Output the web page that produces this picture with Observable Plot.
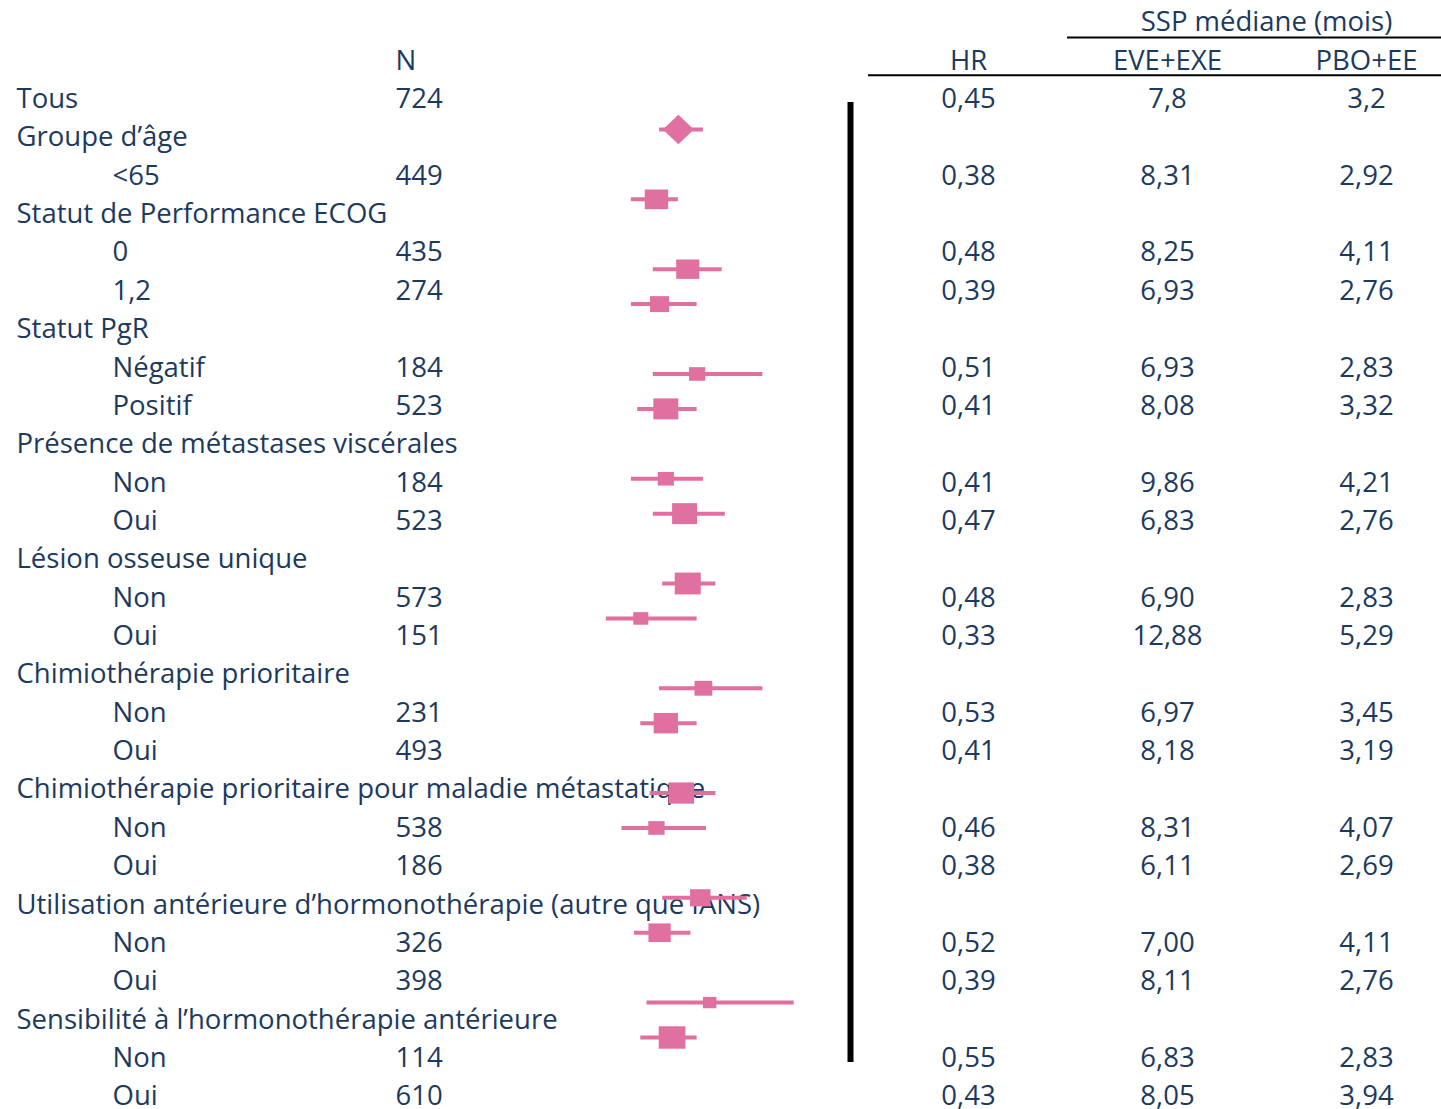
<!DOCTYPE html>
<html lang="fr">
<head>
<meta charset="utf-8">
<title>SSP médiane par sous-groupe</title>
<script src="https://cdn.jsdelivr.net/npm/d3@7"></script>
<script src="https://cdn.jsdelivr.net/npm/@observablehq/plot@0.6"></script>
<style>
  html, body { margin: 0; padding: 0; background: #ffffff; }
  #chart { position: relative; width: 1441px; height: 1109px; }
  #chart svg { position: absolute; left: 0; top: 0; }
</style>
</head>
<body>
<div id="chart"></div>
<script>
// Row labels of the table, top to bottom
const rowLabels = [
  "Tous",
  "Groupe d’âge", "<65",
  "Statut de Performance ECOG", "0", "1,2",
  "Statut PgR", "Négatif", "Positif",
  "Présence de métastases viscérales", "Non", "Oui",
  "Lésion osseuse unique", "Non", "Oui",
  "Chimiothérapie prioritaire", "Non", "Oui",
  "Chimiothérapie prioritaire pour maladie métastatique", "Non", "Oui",
  "Utilisation antérieure d’hormonothérapie (autre que IANS)", "Non", "Oui",
  "Sensibilité à l’hormonothérapie antérieure", "Non", "Oui"
];
// "total" = overall population, "group" = subgroup heading, "sub" = subgroup level
const rowKind = [
  "total",
  "group", "sub",
  "group", "sub", "sub",
  "group", "sub", "sub",
  "group", "sub", "sub",
  "group", "sub", "sub",
  "group", "sub", "sub",
  "group", "sub", "sub",
  "group", "sub", "sub",
  "group", "sub", "sub"
];

// Values for every row that carries an estimate (overall + each subgroup level)
const patients    = [724, 449, 435, 274, 184, 523, 184, 523, 573, 151, 231, 493, 538, 186, 326, 398, 114, 610];
const hazardRatio = [0.45, 0.38, 0.48, 0.39, 0.51, 0.41, 0.41, 0.47, 0.48, 0.33, 0.53, 0.41, 0.46, 0.38, 0.52, 0.39, 0.55, 0.43];
const ciLower     = [0.39, 0.30, 0.37, 0.30, 0.37, 0.32, 0.30, 0.37, 0.40, 0.22, 0.39, 0.33, 0.36, 0.27, 0.40, 0.31, 0.35, 0.33];
const ciUpper     = [0.53, 0.45, 0.59, 0.51, 0.72, 0.51, 0.53, 0.60, 0.57, 0.51, 0.72, 0.51, 0.57, 0.54, 0.67, 0.49, 0.82, 0.51];
const medianEveExe = [7.8, 8.31, 8.25, 6.93, 6.93, 8.08, 9.86, 6.83, 6.90, 12.88, 6.97, 8.18, 8.31, 6.11, 7.00, 8.11, 6.83, 8.05];
const medianPboEe  = [3.2, 2.92, 4.11, 2.76, 2.83, 3.32, 4.21, 2.76, 2.83, 5.29, 3.45, 3.19, 4.07, 2.69, 4.11, 2.76, 2.83, 3.94];

// Header labels
const headerTop = "SSP médiane (mois)";
const headerCols = { n: "N", hr: "HR", eve: "EVE+EXE", pbo: "PBO+EE" };

// ---- assemble table rows ----
const rows = rowLabels.map((label, row) => ({ row, label, kind: rowKind[row] }));
const estimateRows = rows.filter(d => d.kind !== "group");
const estimates = estimateRows.map((d, i) => ({
  row: d.row,
  kind: d.kind,
  n: patients[i],
  hr: hazardRatio[i],
  lo: ciLower[i],
  hi: ciUpper[i],
  eve: medianEveExe[i],
  pbo: medianPboEe[i]
}));

const frNum = (v, digits) => v.toFixed(digits).replace(".", ",");
const medianDigits = d => (d.kind === "total" ? 1 : 2);

// ---- layout & style ----
const W = 1441, H = 1109;
const navy = "#1c3a5e";
const pink = "#df70a0";
const font = "'Open Sans', Lato, sans-serif";
const fontSize = 27.5;
const col = { label: 16, sub: 112, n: 395, hr: 968, eve: 1167, pbo: 1366, ssp: 1266 };

// filled box, slightly wider than tall
const box = {
  draw(ctx, size) {
    const r = Math.sqrt(size / Math.PI);
    const w = r, h = r * 0.84;
    ctx.moveTo(-w, -h); ctx.lineTo(w, -h); ctx.lineTo(w, h); ctx.lineTo(-w, h); ctx.closePath();
  }
};
// diamond for the overall estimate
const diamond = {
  draw(ctx, size) {
    const r = Math.sqrt(size / Math.PI);
    const w = r * 1.08, h = r * 1.02;
    ctx.moveTo(0, -h); ctx.lineTo(w, 0); ctx.lineTo(0, h); ctx.lineTo(-w, 0); ctx.closePath();
  }
};

const textStyle = { fill: navy, fontSize, fontFamily: font };

// ---- table of labels and numbers ----
const table = Plot.plot({
  width: W,
  height: H,
  margin: 0,
  x: { type: "identity" },
  y: { domain: [-2, 26], range: [22, 1096], axis: null },
  style: { fontFamily: font, background: "transparent", overflow: "visible" },
  marks: [
    // header
    Plot.text([headerTop], { x: col.ssp, y: -2, text: d => d, textAnchor: "middle", ...textStyle }),
    Plot.ruleY([-2], { x1: 1067, x2: W, dy: 15, stroke: "#000", strokeWidth: 2 }),
    Plot.text([headerCols.n], { x: col.n, y: -1, text: d => d, textAnchor: "start", ...textStyle }),
    Plot.text([headerCols.hr], { x: col.hr, y: -1, text: d => d, textAnchor: "middle", ...textStyle }),
    Plot.text([headerCols.eve], { x: col.eve, y: -1, text: d => d, textAnchor: "middle", ...textStyle }),
    Plot.text([headerCols.pbo], { x: col.pbo, y: -1, text: d => d, textAnchor: "middle", ...textStyle }),
    Plot.ruleY([-1], { x1: 868, x2: W, dy: 14.5, stroke: "#000", strokeWidth: 2 }),

    // row labels
    Plot.text(rows, {
      x: d => (d.kind === "sub" ? col.sub : col.label),
      y: "row", text: "label", textAnchor: "start", ...textStyle
    }),
    // numeric columns
    Plot.text(estimates, { x: col.n, y: "row", text: d => String(d.n), textAnchor: "start", ...textStyle }),
    Plot.text(estimates, { x: col.hr, y: "row", text: d => frNum(d.hr, 2), textAnchor: "middle", ...textStyle }),
    Plot.text(estimates, { x: col.eve, y: "row", text: d => frNum(d.eve, medianDigits(d)), textAnchor: "middle", ...textStyle }),
    Plot.text(estimates, { x: col.pbo, y: "row", text: d => frNum(d.pbo, medianDigits(d)), textAnchor: "middle", ...textStyle })
  ]
});

// ---- forest panel: hazard ratios with 95% CI, box area grows with N ----
const forest = Plot.plot({
  width: W,
  height: H,
  marginTop: 102,
  marginBottom: 47,
  marginLeft: 0,
  marginRight: 0,
  x: { domain: [0, 1], range: [537, 850], axis: null },
  y: { domain: [0, 26], range: [129, 1037], axis: null },
  r: { type: "sqrt", domain: [0, 724], range: [1.7, 14.4] },
  style: { background: "transparent", overflow: "visible" },
  marks: [
    Plot.ruleX([1], { stroke: "#000", strokeWidth: 6 }),
    Plot.ruleY(estimates, { x1: "lo", x2: "hi", y: "row", stroke: pink, strokeWidth: 4 }),
    Plot.dot(estimates.filter(d => d.kind === "total"), {
      x: "hr", y: "row", r: "n", symbol: diamond, fill: pink, stroke: "none"
    }),
    Plot.dot(estimates.filter(d => d.kind !== "total"), {
      x: "hr", y: "row", r: "n", symbol: box, fill: pink, stroke: "none"
    })
  ]
});

const chart = document.getElementById("chart");
chart.appendChild(table);
chart.appendChild(forest);
</script>
</body>
</html>
